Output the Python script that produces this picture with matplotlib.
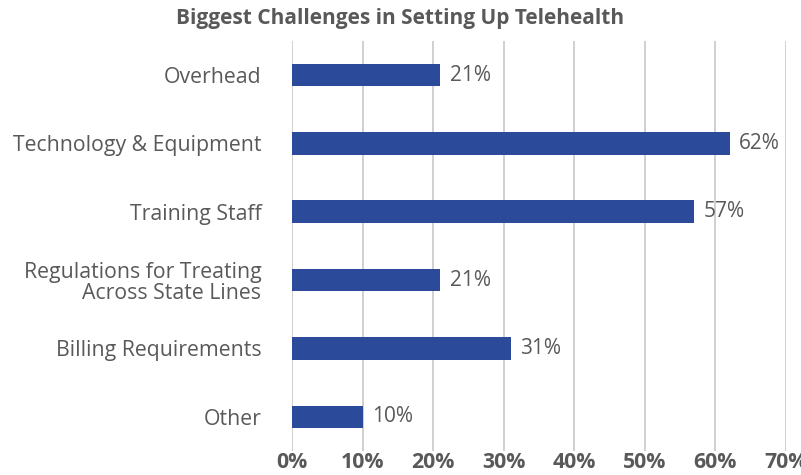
import matplotlib
matplotlib.use("Agg")
import matplotlib.pyplot as plt
from matplotlib.ticker import FuncFormatter

categories = ["Overhead", "Technology & Equipment", "Training Staff",
              "Regulations for Treating\nAcross State Lines", "Billing Requirements", "Other"]
values = [21, 62, 57, 21, 31, 10]
xticks = [0, 10, 20, 30, 40, 50, 60, 70]

plt.rcParams['font.family'] = ['Open Sans', 'DejaVu Sans']
txt = "#595959"

fig = plt.figure(figsize=(8.01, 4.75), dpi=100)
ax = fig.add_axes([292 / 801, 0.0505, (786 - 292) / 801, 0.914 - 0.0505])

ypos = list(range(len(categories)))
ax.barh(ypos, values, height=0.33, color="#2C4A9A", zorder=3)
for y, v in zip(ypos, values):
    ax.annotate(f"{v}%", xy=(v, y), xytext=(7, 0), textcoords="offset points",
                va="center", ha="left", fontsize=15, color=txt)

ax.set_yticks(ypos)
ax.set_yticklabels(categories, fontsize=15.3, color=txt, linespacing=1.05)
ax.set_ylim(len(categories) - 0.5, -0.5)
ax.set_xlim(0, 70)
ax.set_xticks(xticks)
ax.xaxis.set_major_formatter(FuncFormatter(lambda x, p: f"{int(x)}%"))
for lab in ax.get_xticklabels():
    lab.set_fontweight("bold")
    lab.set_fontsize(15.3)
    lab.set_color(txt)
ax.tick_params(axis="x", length=0, pad=1)
ax.tick_params(axis="y", length=0, pad=22)
ax.grid(axis="x", color="#C8C8C8", linewidth=1.2, zorder=0)
ax.set_axisbelow(True)
for s in ax.spines.values():
    s.set_visible(False)

fig.text(0.5, 0.962, "Biggest Challenges in Setting Up Telehealth", ha="center", va="center",
         fontsize=15, fontweight="bold", color=txt)

fig.savefig("out.png", dpi=100)
